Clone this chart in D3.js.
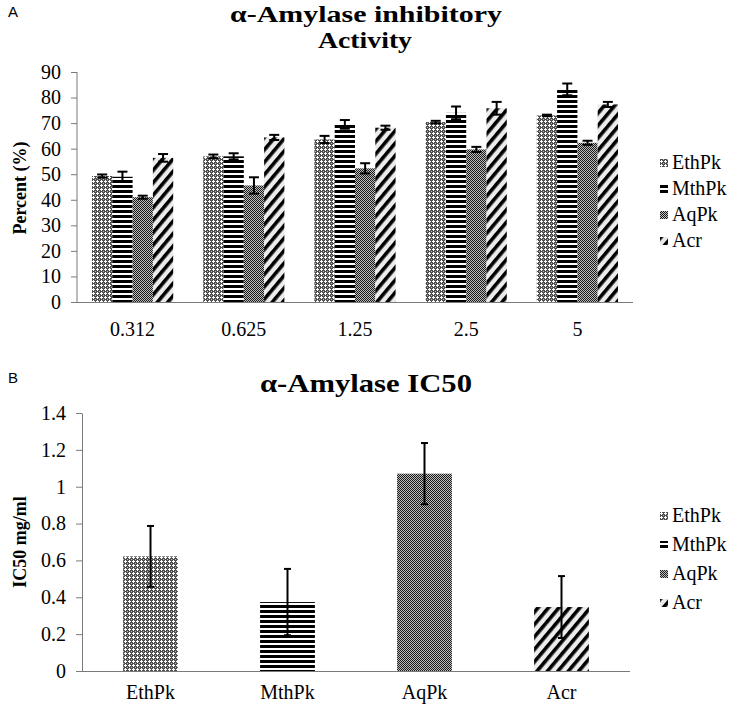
<!DOCTYPE html>
<html><head><meta charset="utf-8">
<script src="https://cdnjs.cloudflare.com/ajax/libs/d3/7.8.5/d3.min.js"></script>
<style>
body{margin:0;background:#fff;}
svg text{font-family:"Liberation Serif","Times New Roman",serif;fill:#000;}
</style></head><body>
<svg id="c" width="742" height="707"></svg>
<script>
// ---------- data ----------
const concentrations = ["0.312", "0.625", "1.25", "2.5", "5"];
const seriesNames = ["EthPk", "MthPk", "AqPk", "Acr"];
const ethPkPct = [49.3, 57.0, 63.6, 70.4, 73.0];
const mthPkPct = [49.0, 57.0, 69.5, 74.0, 83.2];
const aqPkPct  = [41.0, 45.6, 52.3, 59.7, 62.3];
const acrPct   = [56.4, 64.4, 68.2, 75.8, 77.3];
const ethPkPctErr = [0.6, 0.7, 1.4, 0.5, 0.3];
const mthPkPctErr = [2.0, 1.2, 1.7, 2.5, 2.3];
const aqPkPctErr  = [0.6, 3.2, 2.0, 1.0, 0.8];
const acrPctErr   = [1.5, 1.0, 0.8, 2.5, 1.0];
const pctTicks = [0, 10, 20, 30, 40, 50, 60, 70, 80, 90];

const ic50 = [0.622, 0.374, 1.071, 0.347];
const ic50Err = [0.165, 0.18, 0.166, 0.168];
const ic50Ticks = [0, 0.2, 0.4, 0.6, 0.8, 1, 1.2, 1.4];

// ---------- setup ----------
const SERIF = "'Liberation Serif','Times New Roman',serif";
const svg = d3.select("#c");
const defs = svg.append("defs");

// EthPk: gray with white crosses
{
  const p = defs.append("pattern").attr("id","pEth").attr("patternUnits","userSpaceOnUse").attr("width",4).attr("height",4);
  p.append("rect").attr("width",4).attr("height",4).attr("fill","#4e4e4e");
  p.append("rect").attr("x",1).attr("y",0).attr("width",1).attr("height",3).attr("fill","#fff");
  p.append("rect").attr("x",0).attr("y",1).attr("width",3).attr("height",1).attr("fill","#fff");
  p.append("rect").attr("x",3).attr("y",3).attr("width",1).attr("height",1).attr("fill","#bbb");
}
// MthPk: horizontal black stripes
{
  const p = defs.append("pattern").attr("id","pMth").attr("patternUnits","userSpaceOnUse").attr("width",10).attr("height",5);
  p.append("rect").attr("width",10).attr("height",5).attr("fill","#fff");
  p.append("rect").attr("y",0).attr("width",10).attr("height",3).attr("fill","#000");
}
// AqPk: fine checker
{
  const p = defs.append("pattern").attr("id","pAq").attr("patternUnits","userSpaceOnUse").attr("width",2).attr("height",2);
  p.append("rect").attr("width",2).attr("height",2).attr("fill","#bdbdbd");
  p.append("rect").attr("x",0).attr("y",0).attr("width",1).attr("height",1).attr("fill","#1a1a1a");
  p.append("rect").attr("x",1).attr("y",1).attr("width",1).attr("height",1).attr("fill","#1a1a1a");
}
// Acr: wide diagonal stripes
{
  const p = defs.append("pattern").attr("id","pAcr").attr("patternUnits","userSpaceOnUse").attr("width",8).attr("height",8)
    .attr("patternTransform","rotate(40)");
  p.append("rect").attr("width",8).attr("height",8).attr("fill","#ececec");
  p.append("rect").attr("x",1).attr("width",3.6).attr("height",8).attr("fill","#000");
}
const fills = ["url(#pEth)","url(#pMth)","url(#pAq)","url(#pAcr)"];
const axisColor = "#7a7a7a";

// panel letters
svg.append("text").attr("x",8).attr("y",17).text("A")
  .style("font-family","'Liberation Sans',Arial,sans-serif").style("font-size","15px");
svg.append("text").attr("x",8).attr("y",383).text("B")
  .style("font-family","'Liberation Sans',Arial,sans-serif").style("font-size","15px");

// ---------- Chart A ----------
const yA = d3.scaleLinear().domain([0,90]).range([302,72]);
const x0A = d3.scaleBand().domain(concentrations).range([77,633]).paddingInner(0.27).paddingOuter(0.135);
const x1A = d3.scaleBand().domain(seriesNames).range([0,x0A.bandwidth()]).padding(0);
const pctSeries = [ethPkPct, mthPkPct, aqPkPct, acrPct];
const pctErrs = [ethPkPctErr, mthPkPctErr, aqPkPctErr, acrPctErr];

svg.append("text").attr("x",366).attr("y",22).attr("text-anchor","middle")
  .attr("textLength",272).attr("lengthAdjust","spacingAndGlyphs")
  .style("font-family",SERIF).style("font-size","24px").style("font-weight","bold").text("α-Amylase inhibitory");
svg.append("text").attr("x",365).attr("y",48).attr("text-anchor","middle")
  .attr("textLength",94).attr("lengthAdjust","spacingAndGlyphs")
  .style("font-family",SERIF).style("font-size","24px").style("font-weight","bold").text("Activity");

const gA = svg.append("g");
seriesNames.forEach((s,si)=>{
  concentrations.forEach((c,ci)=>{
    const v = pctSeries[si][ci];
    const xx = x0A(c)+x1A(s);
    gA.append("rect").attr("x",xx).attr("y",yA(v)).attr("width",x1A.bandwidth()).attr("height",yA(0)-yA(v))
      .attr("fill",fills[si]);
  });
});
// error bars
seriesNames.forEach((s,si)=>{
  concentrations.forEach((c,ci)=>{
    const v = pctSeries[si][ci], e = pctErrs[si][ci];
    const cx = x0A(c)+x1A(s)+x1A.bandwidth()/2;
    const g = gA.append("g").attr("stroke","#000").attr("stroke-width",2);
    g.append("line").attr("x1",cx).attr("x2",cx).attr("y1",yA(v+e)).attr("y2",yA(v-e));
    g.append("line").attr("x1",cx-5).attr("x2",cx+5).attr("y1",yA(v+e)).attr("y2",yA(v+e));
    g.append("line").attr("x1",cx-5).attr("x2",cx+5).attr("y1",yA(v-e)).attr("y2",yA(v-e));
  });
});
// axes
const yAxA = svg.append("g").attr("transform","translate(77,0)")
  .call(d3.axisLeft(yA).tickValues(pctTicks).tickSize(6).tickSizeOuter(0).tickPadding(10));
yAxA.selectAll("line,path").attr("stroke",axisColor);
yAxA.selectAll("text").style("font-size","20px").style("font-family",SERIF);
yAxA.select(".domain").attr("d","M0,"+yA(90)+"V"+yA(0));
const xAxA = svg.append("g").attr("transform","translate(0,302)")
  .call(d3.axisBottom(x0A).tickSize(0).tickPadding(20));
xAxA.selectAll("path").attr("stroke",axisColor).attr("d","M77,0.5H633");
xAxA.selectAll("text").style("font-size","20px").style("font-family",SERIF);
svg.append("text").attr("transform","translate(26,188) rotate(-90)").attr("text-anchor","middle")
  .style("font-family",SERIF).style("font-size","18px").style("font-weight","bold").text("Percent (%)");

// legend A
const legA = svg.append("g");
seriesNames.forEach((s,i)=>{
  const yy = 163 + i*26;
  legA.append("rect").attr("x",660).attr("y",yy-4).attr("width",8).attr("height",8).attr("fill",fills[i]);
  legA.append("text").attr("x",672).attr("y",yy+6).style("font-family",SERIF).style("font-size","20px").text(s);
});

// ---------- Chart B ----------
const yB = d3.scaleLinear().domain([0,1.4]).range([671,413]);
const xB = d3.scaleBand().domain(seriesNames).range([82,630]).paddingInner(0.6).paddingOuter(0.3);

svg.append("text").attr("x",366).attr("y",392).attr("text-anchor","middle")
  .attr("textLength",212).attr("lengthAdjust","spacingAndGlyphs")
  .style("font-family",SERIF).style("font-size","25px").style("font-weight","bold").text("α-Amylase IC50");

const gB = svg.append("g");
seriesNames.forEach((s,i)=>{
  gB.append("rect").attr("x",xB(s)).attr("y",yB(ic50[i])).attr("width",xB.bandwidth()).attr("height",yB(0)-yB(ic50[i]))
    .attr("fill",fills[i]);
});
seriesNames.forEach((s,i)=>{
  const cx = xB(s)+xB.bandwidth()/2, v = ic50[i], e = ic50Err[i];
  const g = gB.append("g").attr("stroke","#000").attr("stroke-width",2);
  g.append("line").attr("x1",cx).attr("x2",cx).attr("y1",yB(v+e)).attr("y2",yB(v-e));
  g.append("line").attr("x1",cx-3.5).attr("x2",cx+3.5).attr("y1",yB(v+e)).attr("y2",yB(v+e));
  g.append("line").attr("x1",cx-3.5).attr("x2",cx+3.5).attr("y1",yB(v-e)).attr("y2",yB(v-e));
});
const yAxB = svg.append("g").attr("transform","translate(82,0)")
  .call(d3.axisLeft(yB).tickValues(ic50Ticks).tickFormat(d3.format("")).tickSize(6).tickSizeOuter(0).tickPadding(10));
yAxB.selectAll("line,path").attr("stroke",axisColor);
yAxB.selectAll("text").style("font-size","20px").style("font-family",SERIF);
const xAxB = svg.append("g").attr("transform","translate(0,671)")
  .call(d3.axisBottom(xB).tickSize(0).tickPadding(14));
xAxB.selectAll("path").attr("stroke",axisColor).attr("d","M82,0.5H630");
xAxB.selectAll("text").style("font-size","20px").style("font-family",SERIF);
svg.append("text").attr("transform","translate(26,542) rotate(-90)").attr("text-anchor","middle")
  .style("font-family",SERIF).style("font-size","18px").style("font-weight","bold").text("IC50 mg/ml");

const legB = svg.append("g");
seriesNames.forEach((s,i)=>{
  const yy = 516 + i*29;
  legB.append("rect").attr("x",660).attr("y",yy-4).attr("width",8).attr("height",8).attr("fill",fills[i]);
  legB.append("text").attr("x",672).attr("y",yy+6).style("font-family",SERIF).style("font-size","20px").text(s);
});
</script>
</body></html>
